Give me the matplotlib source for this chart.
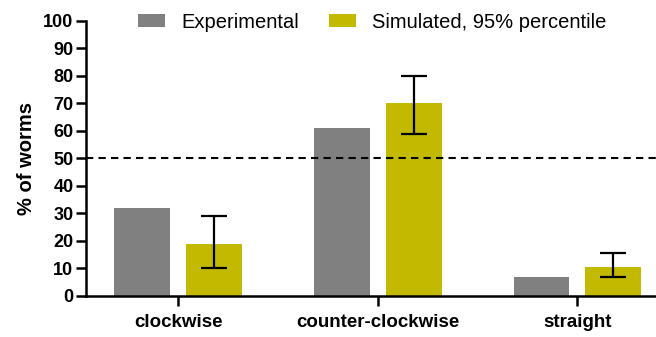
import numpy as np
from matplotlib import pyplot as plt

categories = ['clockwise', 'counter-clockwise', 'straight']
experimental = [32, 61, 7]
simulated = [18.8, 70.3, 10.7]
sim_low = [10.2, 59.0, 6.8]
sim_high = [29.2, 80.0, 15.8]

plt.rcParams['font.family'] = ['Liberation Sans', 'DejaVu Sans']

fig = plt.figure(figsize=(6.56, 3.37), dpi=100)
ax = fig.add_axes([0.131, 0.1217, 0.88, 0.816])

x = np.arange(len(categories))
width = 0.28
offset = 0.18
sim = np.array(simulated)
yerr = [sim - np.array(sim_low), np.array(sim_high) - sim]

ax.bar(x - offset, experimental, width, color='#808080', label='Experimental')
ax.bar(x + offset, simulated, width, color='#c2b900', label='Simulated, 95% percentile')
ax.errorbar(x + offset, simulated, yerr=yerr, fmt='none', ecolor='black',
            elinewidth=1.6, capsize=9.5, capthick=1.6)

ax.axhline(50, color='black', linestyle=(0, (3.5, 2.5)), linewidth=1.5)

ax.set_xlim(-0.462, 2.43)
ax.set_ylim(0, 100)
ax.set_yticks(range(0, 101, 10))
ax.set_xticks(x)
ax.set_xticklabels(categories, fontsize=13.5, fontweight='bold')
for lab in ax.get_yticklabels():
    lab.set_fontweight('bold')
    lab.set_fontsize(13)
ax.tick_params(axis='both', direction='out', length=7, width=1.8, pad=2)
ax.tick_params(axis='x', pad=6)
ax.set_ylabel('% of worms', fontsize=14.5, fontweight='bold', labelpad=5)

for side in ['top', 'right']:
    ax.spines[side].set_visible(False)
for side in ['left', 'bottom']:
    ax.spines[side].set_linewidth(1.8)

ax.legend(loc='center left', bbox_to_anchor=(0.09, 0.995), ncol=2, frameon=False,
          fontsize=14.5, handlelength=1.35, handleheight=0.6, columnspacing=1.5,
          handletextpad=0.8, borderaxespad=0, borderpad=0)

fig.savefig('out.png', dpi=100)
